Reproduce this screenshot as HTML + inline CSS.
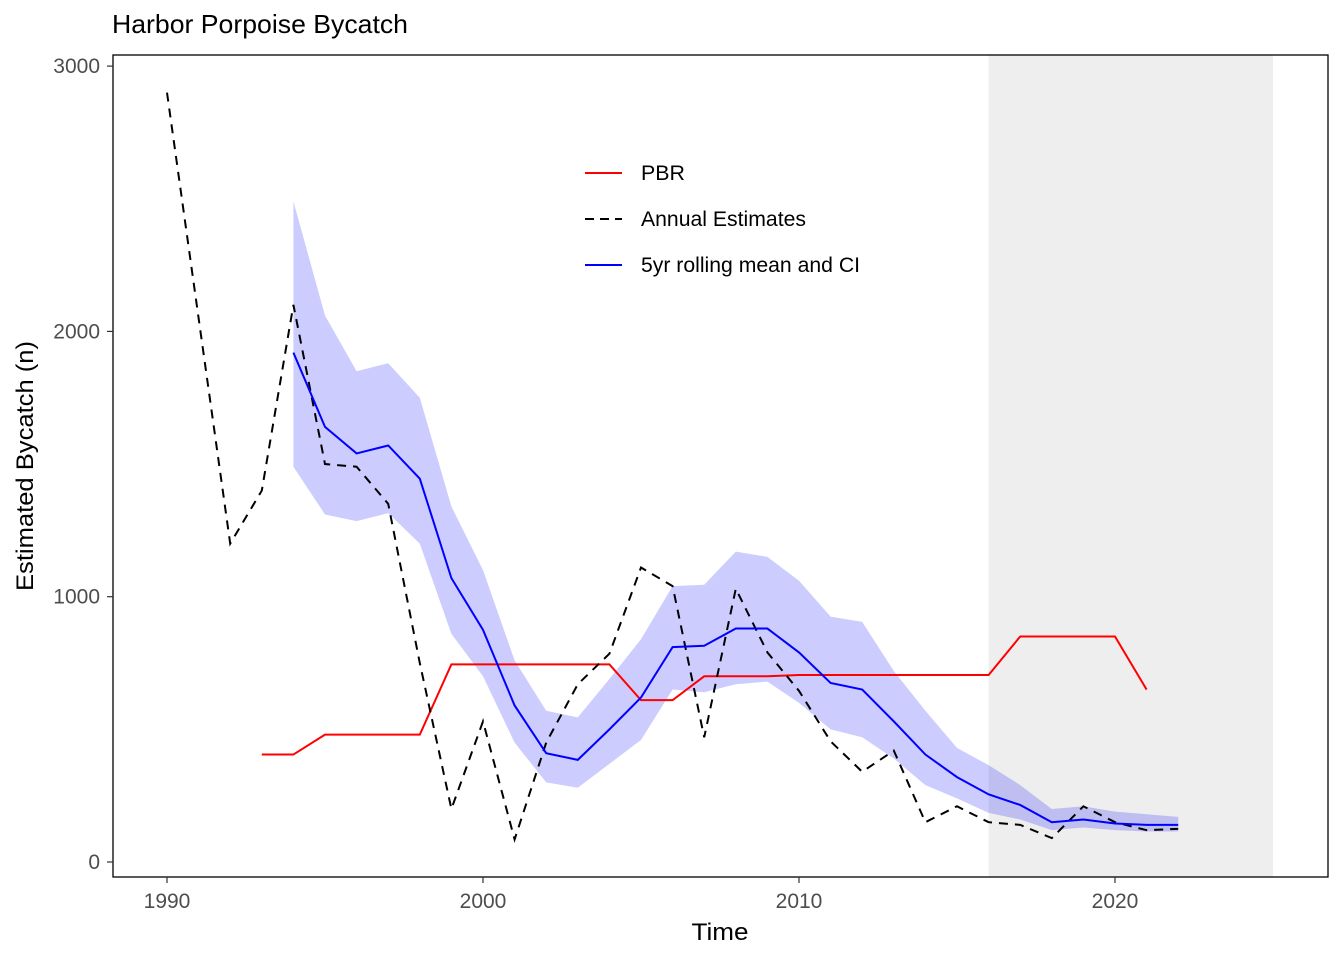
<!DOCTYPE html>
<html><head><meta charset="utf-8"><style>
body{margin:0;background:#fff;font-family:"Liberation Sans",Arial,sans-serif}
</style></head><body>
<svg id="chart" width="1344" height="960" xmlns="http://www.w3.org/2000/svg" font-family="Liberation Sans, Arial, sans-serif">
<rect width="1344" height="960" fill="#fff"/>
<text x="112" y="33" font-size="26" fill="#000" textLength="296" lengthAdjust="spacingAndGlyphs">Harbor Porpoise Bycatch</text>
<g id="plot"></g>
<text x="720" y="940" font-size="24" text-anchor="middle" textLength="57" lengthAdjust="spacingAndGlyphs">Time</text>
<text transform="translate(33,466) rotate(-90)" font-size="24" text-anchor="middle" textLength="250" lengthAdjust="spacingAndGlyphs">Estimated Bycatch (n)</text>
</svg>
<script>
const annualYears=[1990,1991,1992,1993,1994,1995,1996,1997,1998,1999,2000,2001,2002,2003,2004,2005,2006,2007,2008,2009,2010,2011,2012,2013,2014,2015,2016,2017,2018,2019,2020,2021,2022];
const annualValues=[2900,2050,1200,1400,2100,1500,1490,1350,750,200,530,85,450,670,785,1110,1040,470,1030,790,645,455,340,420,150,210,150,140,90,210,150,120,125];
const meanYears=[1994,1995,1996,1997,1998,1999,2000,2001,2002,2003,2004,2005,2006,2007,2008,2009,2010,2011,2012,2013,2014,2015,2016,2017,2018,2019,2020,2021,2022];
const meanValues=[1920,1640,1540,1570,1445,1070,875,590,410,385,500,620,810,815,880,880,790,675,650,530,405,320,255,215,150,160,145,140,140];
const ciUpper=[2490,2060,1850,1880,1750,1340,1100,760,570,545,690,840,1040,1045,1170,1150,1060,925,905,720,570,430,365,290,200,210,190,180,170];
const ciLower=[1490,1310,1285,1315,1200,860,700,450,300,280,370,460,650,640,670,680,600,500,470,390,290,240,185,160,120,130,120,115,115];
const pbrYears=[1993,1994,1995,1996,1997,1998,1999,2000,2001,2002,2003,2004,2005,2006,2007,2008,2009,2010,2011,2012,2013,2014,2015,2016,2017,2018,2019,2020,2021];
const pbrValues=[405,405,480,480,480,480,745,745,745,745,745,745,610,610,700,700,700,705,705,705,705,705,705,705,850,850,850,850,650];
const xTicks=[1990,2000,2010,2020];
const yTicks=[0,1000,2000,3000];
const shadeRange=[2016,2025];

const NS="http://www.w3.org/2000/svg";
const X=v=>167+(v-1990)*31.6;
const Y=v=>862-v*0.2653;
const g=document.getElementById('plot');
function mk(t,a){const e=document.createElementNS(NS,t);for(const k in a)e.setAttribute(k,a[k]);g.appendChild(e);return e;}
const shade=mk('rect',{x:X(shadeRange[0]),y:55,width:X(shadeRange[1])-X(shadeRange[0]),height:822,fill:'#ebebeb',opacity:0.85});


let pts=meanYears.map((y,i)=>X(y)+','+Y(ciUpper[i]));
pts=pts.concat(meanYears.map((y,i)=>X(y)+','+Y(ciLower[i])).reverse());
const ci=mk('polygon',{points:pts.join(' '),fill:'#0000ff','fill-opacity':0.2});


const pbr=mk('polyline',{points:pbrYears.map((y,i)=>X(y)+','+Y(pbrValues[i])).join(' '),fill:'none',stroke:'#ff0000','stroke-width':2});


const ann=mk('polyline',{points:annualYears.map((y,i)=>X(y)+','+Y(annualValues[i])).join(' '),fill:'none',stroke:'#000','stroke-width':2,'stroke-dasharray':'9,7'});


const mean=mk('polyline',{points:meanYears.map((y,i)=>X(y)+','+Y(meanValues[i])).join(' '),fill:'none',stroke:'#0000ff','stroke-width':2});


const frame=mk('rect',{x:113,y:55,width:1215,height:822,fill:'none',stroke:'#000','stroke-width':1.3});


xTicks.forEach(t=>{
  const l=mk('line',{x1:X(t),x2:X(t),y1:877,y2:883,stroke:'#333','stroke-width':1.2});
  
  
  const tx=mk('text',{x:X(t),y:908,'font-size':21,'text-anchor':'middle',fill:'#4d4d4d'});
  
  
  tx.textContent=t;
});
yTicks.forEach(t=>{
  const l=mk('line',{x1:107,x2:113,y1:Y(t),y2:Y(t),stroke:'#333','stroke-width':1.2});
  
  
  const tx=mk('text',{x:100,y:Y(t)+7,'font-size':21,'text-anchor':'end',fill:'#4d4d4d'});
  
  
  tx.textContent=t;
});
const legend=[['PBR','#ff0000',null,173,44],['Annual Estimates','#000','9,6',219,165],['5yr rolling mean and CI','#0000ff',null,265,219]];
legend.forEach(L=>{
  const a={x1:585,x2:622,y1:L[3],y2:L[3],stroke:L[1],'stroke-width':2};
  if(L[2])a['stroke-dasharray']=L[2];
  const l=mk('line',a);
  
  
  const tx=mk('text',{x:641,y:L[3]+7,'font-size':21,fill:'#000',textLength:L[4],lengthAdjust:'spacingAndGlyphs'});
  
  
  tx.textContent=L[0];
});
</script>
</body></html>
